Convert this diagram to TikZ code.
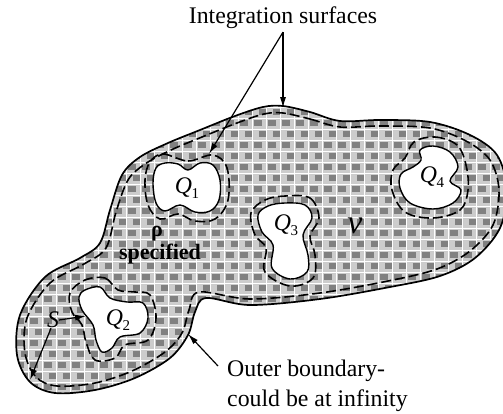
\documentclass[tikz,border=0pt]{standalone}
\usepackage{fontspec}
\setmainfont{Liberation Serif}
\usetikzlibrary{arrows.meta}
\tikzset{
 outline/.style={line width=1.7pt, line join=round},
 surf/.style={line width=1.6pt, dash pattern=on 10pt off 4pt},
 hole/.style={fill=white, draw=black, line width=1.4pt},
 ptr/.style={line width=1.2pt, -{Latex[length=11pt,width=6pt]}},
 lbl/.style={font=\fontsize{23.8}{30}\selectfont, align=left, inner sep=0pt},
 qlbl/.style={font=\fontsize{23.8}{30}\selectfont, inner sep=0pt},
}
\newcommand\qlab[1]{\textit{Q}\kern-0.5pt\raisebox{-5pt}{\fontsize{15}{15}\selectfont #1}}
\begin{document}
\begin{tikzpicture}[x=1pt,y=-1pt]
\useasboundingbox (0,0) rectangle (503,413);
\def\outerp{plot[smooth cycle, tension=0.55] coordinates {(283,106) (310,112) (340,121) (380,120) (430,122) (470,135) (497,155) (507,190) (500,228) (475,258) (440,276) (390,287) (320,299) (250,305) (206,298) (195,312) (188,335) (170,358) (135,378) (95,390) (55,393) (30,382) (17,355) (20,315) (45,277) (80,258) (100,243) (110,210) (122,175) (140,157) (168,143) (200,130) (235,116) (263,107)}}
\def\innerp{plot[smooth cycle, tension=0.55] coordinates {(283,113) (310,119) (340,127) (380,126) (430,128) (466,141) (490,160) (499,190) (493,225) (470,251) (437,269) (388,281) (320,293) (250,299) (199,292) (189,310) (182,333) (165,352) (132,371) (95,383) (57,386) (36,377) (25,353) (27,318) (50,283) (84,264) (106,248) (116,212) (128,180) (145,164) (171,150) (202,137) (237,123) (264,114)}}
% texture
\begin{scope}
\clip \outerp;
\fill[black!20] (0,95) rectangle (510,400);
\foreach \j in {0,...,27} {
  \foreach \i in {0,...,37} {
    \fill[black!50] ({\i*14+2+mod(\j,2)*5},{98+\j*11}) rectangle ++(8,6);
  }
  \draw[white, line width=1.3pt] (0,{96.5+\j*11}) -- (510,{96.5+\j*11});
}
\foreach \i in {0,...,36} {
  \draw[white, line width=1pt] ({\i*14+0.5},95) -- ({\i*14+0.5},400);
}
\end{scope}
\draw[outline] \outerp;
\draw[surf] \innerp;
% holes
\draw[hole] plot[smooth cycle, tension=0.6] coordinates {(165,163) (178,164) (188,170) (200,163) (213,165) (220,180) (219,200) (210,211) (195,212) (180,205) (165,211) (156,203) (153,183) (156,168)};
\draw[surf] plot[smooth cycle, tension=0.6] coordinates {(163,154) (188,161) (213,155) (227,168) (228,200) (215,219) (195,221) (178,214) (160,219) (148,205) (145,180) (150,162)};
\draw[hole] plot[smooth cycle, tension=0.6] coordinates {(85,290) (100,287) (110,298) (127,302) (143,303) (148,318) (140,333) (120,337) (112,348) (102,352) (96,340) (93,325) (82,310) (79,297)};
\draw[surf] plot[smooth cycle, tension=0.6] coordinates {(85,280) (105,278) (118,290) (135,292) (150,295) (156,318) (148,340) (125,345) (115,358) (95,360) (86,342) (82,325) (72,312) (70,293)};
\draw[hole] plot[smooth cycle, tension=0.6] coordinates {(285,203) (305,205) (312,218) (303,235) (308,255) (307,272) (290,279) (272,268) (273,245) (262,232) (258,215) (268,206)};
\draw[surf] plot[smooth cycle, tension=0.6] coordinates {(285,196) (310,198) (319,218) (310,236) (315,255) (313,278) (290,286) (265,272) (266,248) (255,235) (251,213) (265,200)};
\draw[hole] plot[smooth cycle, tension=0.6] coordinates {(420,150) (433,146) (450,152) (458,167) (450,181) (461,190) (453,203) (433,209) (410,203) (400,188) (401,174) (413,167) (421,160)};
\draw[surf] plot[smooth cycle, tension=0.6] coordinates {(414,142) (435,137) (457,145) (466,165) (468,190) (460,210) (433,218) (405,212) (392,190) (393,170) (405,158)};
% labels
\node[qlbl] (q1) at (187,188) {\qlab{1}};
\node[qlbl] (q2) at (118,320) {\qlab{2}};
\node[qlbl] (q3) at (286,225) {\qlab{3}};
\node[qlbl] (q4) at (432,177) {\qlab{4}};
\node[font=\bfseries\fontsize{22}{22}\selectfont, inner sep=0pt] (rho) at (157,234) {ρ};
\node[font=\bfseries\fontsize{22}{22}\selectfont, inner sep=0pt] (spec) at (160,254) {specified};
\node[font=\fontsize{34}{34}\selectfont, inner sep=0pt] (vol) at (355,226) {\textit{v}};
\node[lbl] (IS) at (283,18) {Integration surfaces};
\coordinate (tipA) at (283,108);
\coordinate (tipB) at (209,154);
\draw[ptr] ([yshift=-3pt]IS.south) -- (tipA);
\draw[ptr] ([yshift=-3pt]IS.south) -- (tipB);
\node[lbl, anchor=north west] (OB) at (227,360) {Outer boundary-\\could be at infinity};
\coordinate (tipC) at (188,334);
\draw[ptr] ([xshift=-9pt,yshift=-6pt]OB.north west) -- (tipC);
\node[qlbl] (S) at (53,320) {\textit{S}};
\coordinate (tipD) at (86,316);
\coordinate (tipE) at (30,380);
\draw[ptr] (S.east) -- (tipD);
\draw[ptr] ([xshift=-2pt]S.south) -- (tipE);
\end{tikzpicture}
\end{document}
